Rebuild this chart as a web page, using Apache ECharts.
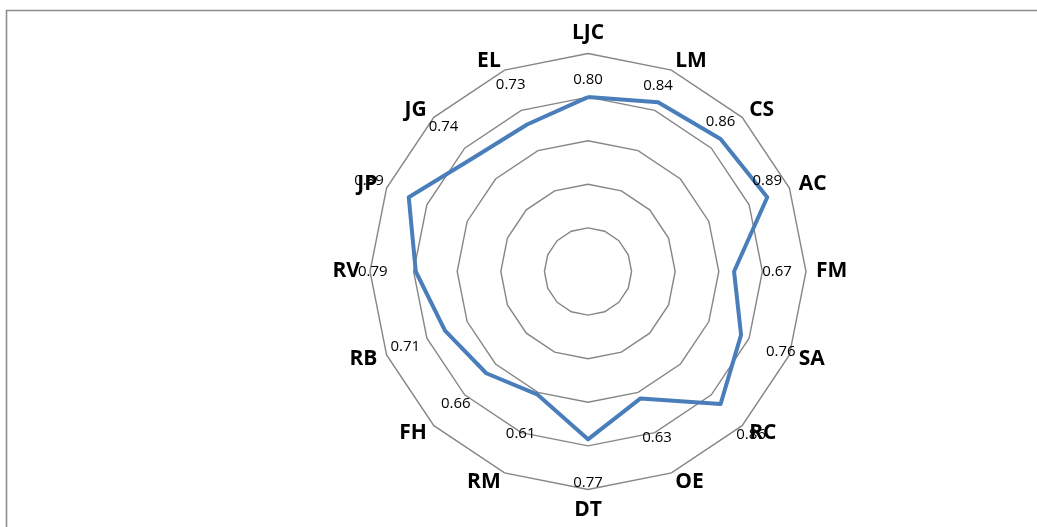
<!DOCTYPE html>
<html>
<head>
<meta charset="utf-8">
<script src="https://cdn.jsdelivr.net/npm/echarts@6/dist/echarts.min.js"></script>
<style>
  html, body { margin: 0; padding: 0; background: #fff; }
  #chart { width: 1037px; height: 527px; }
</style>
</head>
<body>
<div id="chart"></div>
<script>
// clockwise from the top, as in the picture
const names = ['LJC', 'LM', 'CS', 'AC', 'FM', 'SA', 'RC', 'OE', 'DT', 'RM', 'FH', 'RB', 'RV', 'JP', 'JG', 'EL'];
const scores = [0.80, 0.84, 0.86, 0.89, 0.67, 0.76, 0.86, 0.63, 0.77, 0.61, 0.66, 0.71, 0.79, 0.89, 0.74, 0.73];

const cx = 588, cy = 271.5;

// echarts puts radar indicators counter-clockwise, so flip the order after the first
const order = [0].concat(names.map((_, i) => i).slice(1).reverse());

const chart = echarts.init(document.getElementById('chart'));

const option = {
    animation: false,
    graphic: [{
        type: 'rect',
        shape: { x: 6.5, y: 10.5, width: 1100, height: 600 },
        style: { fill: 'none', stroke: '#8c8c8c', lineWidth: 1.6 },
        silent: true
    }],
    radar: {
        center: [cx, cy],
        radius: 218,
        startAngle: 90,
        shape: 'polygon',
        splitNumber: 5,
        nameGap: 10,
        axisName: {
            color: '#000',
            fontFamily: 'Open Sans',
            fontWeight: 'bold',
            fontSize: 21
        },
        indicator: order.map(i => ({ name: names[i], min: 0, max: 1 })),
        axisLine: { show: false },
        axisTick: { show: false },
        axisLabel: { show: false },
        splitArea: { show: false },
        splitLine: { lineStyle: { color: '#868686', width: 1.4 } }
    },
    series: [{
        type: 'radar',
        symbol: 'circle',
        symbolSize: 1,
        lineStyle: { color: '#4a7ebb', width: 4 },
        itemStyle: { color: '#4a7ebb' },
        label: {
            show: true,
            color: '#000',
            fontFamily: 'Open Sans',
            fontSize: 15,
            formatter: p => {
                const v = Array.isArray(p.value) ? p.value[p.dimensionIndex] : p.value;
                return Number(v).toFixed(2);
            }
        },
        labelLayout: p => {
            const r = p.rect;
            const px = r.x + r.width / 2, py = r.y + r.height / 2;
            const dx = px - cx, dy = py - cy;
            const len = Math.sqrt(dx * dx + dy * dy) || 1;
            const a = Math.atan2(dx, -dy) * 180 / Math.PI;
            // upper right labels sit just above their points, the rest further out
            if (a > -5 && a < 75) {
                return { x: px, y: py - 17, align: 'center', verticalAlign: 'middle' };
            }
            return {
                x: px + dx / len * 43,
                y: py + dy / len * 43,
                align: 'center',
                verticalAlign: 'middle'
            };
        },
        data: [{ value: order.map(i => scores[i]) }]
    }]
};

chart.setOption(option);
</script>
</body>
</html>
